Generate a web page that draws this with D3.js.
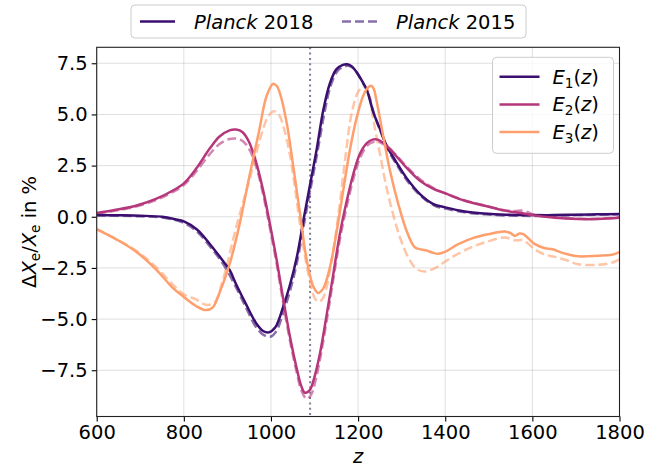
<!DOCTYPE html>
<html>
<head>
<meta charset="utf-8">
<script src="https://cdn.jsdelivr.net/npm/d3@7"></script>
<style>
  body { margin: 0; background: #fff; }
  svg { font-family: "DejaVu Sans", sans-serif; }
</style>
</head>
<body>
<script>
// redshift z and Delta Xe / Xe (%) for the three eigenmodes, Planck 2018 (solid) and 2015 (dashed)
var e1_2018 = [[600,0.08],[650,0.07],[700,0.05],[750,0.0],[780,-0.12],[800,-0.23],[830,-0.62],[860,-1.34],[890,-2.16],[905,-2.6],[920,-3.3],[943,-4.28],[966,-5.2],[982,-5.58],[995,-5.65],[1010,-5.4],[1028,-4.4],[1044,-3.3],[1060,-1.9],[1076,0.0],[1090,1.6],[1105,3.3],[1120,5.2],[1135,6.5],[1150,7.2],[1165,7.42],[1175,7.45],[1185,7.35],[1197,7.05],[1210,6.6],[1220,6.2],[1235,5.1],[1250,4.3],[1266,3.45],[1288,2.66],[1311,1.9],[1342,1.11],[1373,0.62],[1400,0.46],[1445,0.26],[1490,0.16],[1540,0.1],[1600,0.08],[1650,0.08],[1700,0.1],[1750,0.12],[1800,0.13]];
var e1_2015 = [[600,0.06],[650,0.05],[700,0.02],[750,-0.04],[800,-0.3],[830,-0.72],[860,-1.45],[890,-2.3],[920,-3.45],[943,-4.45],[966,-5.4],[985,-5.8],[1000,-5.85],[1012,-5.6],[1028,-4.7],[1044,-3.6],[1060,-2.2],[1078,-0.1],[1092,1.5],[1107,3.2],[1122,5.0],[1137,6.4],[1152,7.1],[1168,7.35],[1178,7.38],[1190,7.25],[1200,6.95],[1212,6.5],[1222,6.1],[1237,5.0],[1252,4.15],[1268,3.3],[1290,2.5],[1313,1.75],[1345,1.0],[1375,0.55],[1400,0.4],[1445,0.22],[1490,0.12],[1540,0.06],[1600,0.04],[1650,0.05],[1700,0.08],[1750,0.1],[1800,0.12]];
var e2_2018 = [[600,0.18],[644,0.34],[690,0.54],[736,0.87],[774,1.27],[800,1.63],[828,2.34],[859,3.32],[882,3.92],[905,4.22],[920,4.26],[935,4.13],[950,3.64],[966,2.66],[982,1.29],[998,-0.4],[1013,-2.1],[1028,-4.0],[1044,-5.9],[1059,-7.4],[1070,-8.3],[1078,-8.6],[1088,-8.5],[1097,-8.04],[1112,-6.73],[1128,-4.77],[1143,-2.81],[1158,-0.85],[1174,0.78],[1189,2.09],[1204,3.07],[1220,3.6],[1235,3.78],[1245,3.77],[1255,3.65],[1265,3.48],[1288,2.95],[1311,2.4],[1342,1.76],[1373,1.36],[1400,1.14],[1445,0.78],[1491,0.54],[1537,0.3],[1575,0.18],[1600,0.08],[1652,-0.05],[1705,-0.11],[1751,-0.11],[1800,-0.05]];
var e2_2015 = [[600,0.15],[644,0.3],[690,0.5],[736,0.82],[774,1.2],[800,1.55],[828,2.2],[859,3.05],[882,3.55],[905,3.8],[920,3.82],[935,3.7],[950,3.3],[966,2.45],[982,1.1],[998,-0.6],[1013,-2.3],[1028,-4.2],[1044,-6.1],[1059,-7.6],[1070,-8.5],[1082,-8.9],[1092,-8.7],[1100,-8.2],[1114,-6.8],[1130,-4.8],[1145,-2.8],[1160,-0.9],[1176,0.7],[1191,2.0],[1206,2.95],[1222,3.5],[1237,3.66],[1248,3.65],[1258,3.55],[1268,3.42],[1290,2.95],[1313,2.42],[1344,1.8],[1375,1.38],[1400,1.15],[1445,0.8],[1491,0.55],[1537,0.32],[1560,0.28],[1575,0.3],[1590,0.22],[1600,0.12],[1652,-0.02],[1705,-0.1],[1751,-0.1],[1800,-0.03]];
var e3_2018 = [[600,-0.6],[644,-1.09],[690,-1.7],[736,-2.57],[774,-3.46],[800,-3.92],[828,-4.36],[851,-4.56],[866,-4.44],[882,-3.71],[905,-2.32],[928,-0.36],[950,1.93],[973,4.22],[990,5.9],[1005,6.5],[1013,6.4],[1021,6.0],[1036,4.6],[1051,2.5],[1067,0.1],[1082,-2.1],[1097,-3.4],[1108,-3.72],[1120,-3.5],[1135,-2.5],[1151,-0.7],[1166,1.3],[1181,3.24],[1197,4.87],[1212,5.93],[1222,6.3],[1230,6.4],[1236,6.25],[1242,5.7],[1258,3.9],[1273,2.27],[1292,0.64],[1311,-0.67],[1330,-1.49],[1345,-1.6],[1357,-1.65],[1370,-1.75],[1384,-1.81],[1399,-1.72],[1430,-1.34],[1468,-1.01],[1499,-0.85],[1537,-0.72],[1550,-0.8],[1560,-0.93],[1570,-0.82],[1579,-0.85],[1606,-1.34],[1629,-1.54],[1644,-1.58],[1675,-1.8],[1705,-1.93],[1751,-1.9],[1782,-1.86],[1800,-1.73]];
var e3_2015 = [[600,-0.62],[644,-1.08],[690,-1.65],[736,-2.45],[774,-3.3],[800,-3.79],[828,-4.04],[851,-4.3],[870,-4.2],[889,-3.14],[920,-0.52],[950,1.76],[981,4.22],[995,4.95],[1007,5.15],[1018,5.0],[1030,4.3],[1042,3.2],[1055,1.44],[1070,-0.85],[1086,-2.81],[1101,-4.0],[1110,-4.15],[1120,-3.95],[1139,-2.16],[1155,0.13],[1170,2.75],[1185,5.03],[1200,6.1],[1212,6.38],[1222,6.2],[1235,4.72],[1250,3.09],[1265,1.45],[1280,0.15],[1296,-1.0],[1315,-1.98],[1334,-2.55],[1353,-2.67],[1380,-2.47],[1399,-2.2],[1430,-1.8],[1468,-1.42],[1499,-1.2],[1537,-1.01],[1560,-1.15],[1579,-1.15],[1606,-1.6],[1629,-1.85],[1650,-1.95],[1675,-2.1],[1705,-2.32],[1751,-2.35],[1782,-2.25],[1800,-2.08]];

var modeNames = ["1", "2", "3"];
var modeColors = ["#3b0f70", "#b5367a", "#fe9f6d"];
var xTicks = [600, 800, 1000, 1200, 1400, 1600, 1800];
var yTicks = [-7.5, -5.0, -2.5, 0.0, 2.5, 5.0, 7.5];
var zStar = 1089.8;

var W = 658, H = 471;
var margin = {top: 47.3, right: 38.5, bottom: 54.5, left: 96.7};
var width = W - margin.left - margin.right,
    height = H - margin.top - margin.bottom;
var fs = 19.5;

var svg = d3.select("body").append("svg")
    .attr("width", W)
    .attr("height", H);

var g = svg.append("g")
    .attr("transform", "translate(" + margin.left + "," + margin.top + ")");

var x = d3.scaleLinear().domain([600, 1800]).range([0, width]);
var y = d3.scaleLinear().domain([-9.76, 8.28]).range([height, 0]);

// grid
g.append("g").selectAll("line").data(xTicks).enter().append("line")
    .attr("x1", d => x(d)).attr("x2", d => x(d))
    .attr("y1", 0).attr("y2", height)
    .attr("stroke", "#b0b0b0").attr("stroke-opacity", 0.4).attr("stroke-width", 1);
g.append("g").selectAll("line").data(yTicks).enter().append("line")
    .attr("x1", 0).attr("x2", width)
    .attr("y1", d => y(d)).attr("y2", d => y(d))
    .attr("stroke", "#b0b0b0").attr("stroke-opacity", 0.4).attr("stroke-width", 1);

// z of last scattering
g.append("line")
    .attr("x1", x(zStar)).attr("x2", x(zStar))
    .attr("y1", 0).attr("y2", height)
    .attr("stroke", "#7d7d96").attr("stroke-width", 2)
    .attr("stroke-dasharray", "2,3.3");

var line = d3.line()
    .x(d => x(d[0]))
    .y(d => y(d[1]))
    .curve(d3.curveCatmullRom.alpha(0.5));

svg.append("defs").append("clipPath").attr("id", "clip")
    .append("rect").attr("width", width).attr("height", height);

var plot = g.append("g").attr("clip-path", "url(#clip)");

var old = [e1_2015, e2_2015, e3_2015];
var now = [e1_2018, e2_2018, e3_2018];

old.forEach(function(s, i) {
  plot.append("path").datum(s)
      .attr("d", line)
      .attr("fill", "none")
      .attr("stroke", modeColors[i])
      .attr("stroke-opacity", 0.6)
      .attr("stroke-width", 2.5)
      .attr("stroke-dasharray", "9,4");
});
now.forEach(function(s, i) {
  plot.append("path").datum(s)
      .attr("d", line)
      .attr("fill", "none")
      .attr("stroke", modeColors[i])
      .attr("stroke-width", 2.5);
});

// axes
var xAxis = d3.axisBottom(x).tickValues(xTicks).tickSize(5).tickPadding(4)
    .tickFormat(d3.format("d"));
var yAxis = d3.axisLeft(y).tickValues(yTicks).tickSize(5).tickPadding(4)
    .tickFormat(d => d3.format(".1f")(d).replace("-", "\u2212"));

var gx = g.append("g").attr("transform", "translate(0," + height + ")").call(xAxis);
var gy = g.append("g").call(yAxis);
[gx, gy].forEach(function(a) {
  a.select(".domain").remove();
  a.selectAll("text").attr("font-size", fs).attr("fill", "#000")
      .attr("font-family", "DejaVu Sans");
  a.selectAll("line").attr("stroke", "#000").attr("stroke-width", 1.1);
});

// frame
g.append("rect")
    .attr("width", width).attr("height", height)
    .attr("fill", "none").attr("stroke", "#222").attr("stroke-width", 1.1);

// axis labels
svg.append("text")
    .attr("x", margin.left + width / 2).attr("y", 463)
    .attr("text-anchor", "middle").attr("font-size", fs)
    .attr("font-style", "italic").text("z");

var yl = svg.append("text")
    .attr("transform", "translate(36," + (margin.top + height / 2) + ") rotate(-90)")
    .attr("text-anchor", "middle").attr("font-size", fs);
yl.append("tspan").text("\u0394");
yl.append("tspan").attr("font-style", "italic").text("X");
yl.append("tspan").attr("font-size", 13.6).attr("dy", 4).text("e");
yl.append("tspan").attr("dy", -4).text("/");
yl.append("tspan").attr("font-style", "italic").text("X");
yl.append("tspan").attr("font-size", 13.6).attr("dy", 4).text("e");
yl.append("tspan").attr("dy", -4).text(" in %");

// top legend: data releases
var lg = svg.append("g").attr("transform", "translate(131,5)");
lg.append("rect")
    .attr("width", 395).attr("height", 33).attr("rx", 4)
    .attr("fill", "#fff").attr("fill-opacity", 0.8)
    .attr("stroke", "#cccccc").attr("stroke-width", 1);
var releases = [{year: "2018", dash: null, op: 1, x0: 9, tx: 63},
                {year: "2015", dash: "9,4", op: 0.6, x0: 211, tx: 265}];
releases.forEach(function(r) {
  lg.append("line")
      .attr("x1", r.x0).attr("x2", r.x0 + 35).attr("y1", 16.5).attr("y2", 16.5)
      .attr("stroke", modeColors[0]).attr("stroke-opacity", r.op)
      .attr("stroke-width", 2.5).attr("stroke-dasharray", r.dash);
  var t = lg.append("text").attr("x", r.tx).attr("y", 23.5).attr("font-size", fs);
  t.append("tspan").attr("font-style", "italic").text("Planck");
  t.append("tspan").text(" " + r.year);
});

// inner legend: modes
var ml = g.append("g").attr("transform", "translate(" + (width - 127) + ",10)");
ml.append("rect")
    .attr("width", 121).attr("height", 96).attr("rx", 4)
    .attr("fill", "#fff").attr("fill-opacity", 0.8)
    .attr("stroke", "#cccccc").attr("stroke-width", 1);
modeNames.forEach(function(n, i) {
  var yy = 19.5 + i * 27.6;
  ml.append("line")
      .attr("x1", 7).attr("x2", 47).attr("y1", yy).attr("y2", yy)
      .attr("stroke", modeColors[i]).attr("stroke-width", 2.5);
  var t = ml.append("text").attr("x", 60).attr("y", yy + 7).attr("font-size", fs);
  t.append("tspan").attr("font-style", "italic").text("E");
  t.append("tspan").attr("font-size", 13.6).attr("dy", 4).text(n);
  t.append("tspan").attr("dy", -4).text("(");
  t.append("tspan").attr("font-style", "italic").text("z");
  t.append("tspan").text(")");
});
</script>
</body>
</html>
